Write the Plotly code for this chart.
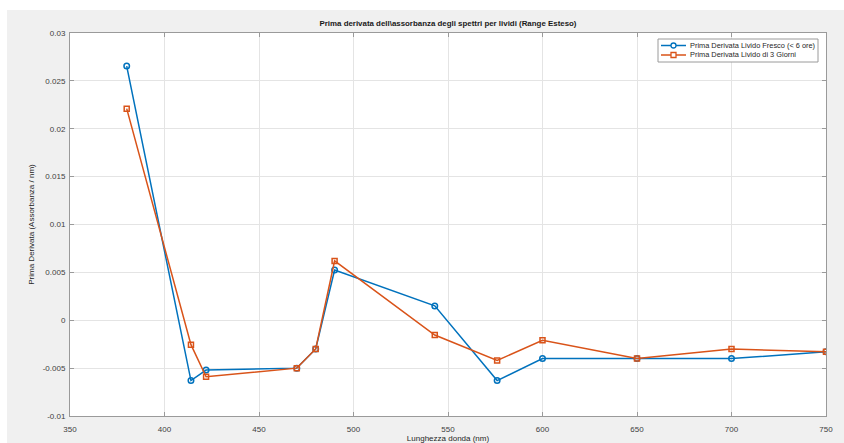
import plotly.graph_objects as go

wavelengths = [380, 414, 422, 470, 480, 490, 543, 576, 600, 650, 700, 750]
fresh = [0.02655, -0.0063, -0.0052, -0.0050, -0.0030, 0.00525, 0.0015, -0.0063, -0.0040, -0.0040, -0.0040, -0.0033]
old3 = [0.0221, -0.00255, -0.0059, -0.0050, -0.0030, 0.0062, -0.00154, -0.0042, -0.0021, -0.0040, -0.0030, -0.0033]
series_names = ["Prima Derivata Livido Fresco (< 6 ore)", "Prima Derivata Livido di 3 Giorni"]

y_ticks = [-0.01, -0.005, 0, 0.005, 0.01, 0.015, 0.02, 0.025, 0.03]
y_labels = ["-0.01", "-0.005", "0", "0.005", "0.01", "0.015", "0.02", "0.025", "0.03"]
x_ticks = [350, 400, 450, 500, 550, 600, 650, 700, 750]

BLUE = "#0072BD"
ORANGE = "#D95319"
FONT = "Liberation Sans, Arial, sans-serif"

# plot area in pixels
L, R, T, B = 70, 826, 33, 416
W, H = R - L, B - T
def px(x):
    return (x - L) / W
def py(y):
    return (B - y) / H

fig = go.Figure()
fig.add_trace(go.Scatter(
    x=wavelengths, y=fresh, mode="lines+markers", name=series_names[0],
    line=dict(color=BLUE, width=1.5),
    marker=dict(symbol="circle-open", size=5.5, color=BLUE, line=dict(width=1.5)),
    showlegend=False,
))
fig.add_trace(go.Scatter(
    x=wavelengths, y=old3, mode="lines+markers", name=series_names[1],
    line=dict(color=ORANGE, width=1.5),
    marker=dict(symbol="square-open", size=5, color=ORANGE, line=dict(width=1.5)),
    showlegend=False,
))

axis_common = dict(
    showline=True, linecolor="#9a9a9a", linewidth=1, mirror="allticks",
    ticks="inside", ticklen=4, tickcolor="#9a9a9a",
    showgrid=True, gridcolor="#e4e4e4", gridwidth=1, zeroline=False,
    tickfont=dict(family=FONT, size=8, color="#404040"),
    automargin=False,
)

shapes = [
    dict(type="rect", xref="paper", yref="paper", x0=-0.2, x1=1.2,
         y0=py(10), y1=1.3, fillcolor="white", line=dict(width=0), layer="below"),
    dict(type="rect", xref="paper", yref="paper", x0=-0.2, x1=px(7),
         y0=-0.3, y1=1.3, fillcolor="white", line=dict(width=0), layer="below"),
    # custom legend box
    dict(type="rect", xref="paper", yref="paper", x0=px(658), x1=px(818),
         y0=py(62), y1=py(39), fillcolor="white", line=dict(color="#9a9a9a", width=1)),
]
annotations = []
rows = [(45.5, BLUE, "circle", series_names[0]), (55, ORANGE, "rect", series_names[1])]
for yrow, col, mk, name in rows:
    shapes.append(dict(type="line", xref="paper", yref="paper", x0=px(661), x1=px(686),
                       y0=py(yrow), y1=py(yrow), line=dict(color=col, width=1.5)))
    r = 2.5
    shapes.append(dict(type=mk, xref="paper", yref="paper", x0=px(673.5 - r), x1=px(673.5 + r),
                       y0=py(yrow + r), y1=py(yrow - r), fillcolor="white",
                       line=dict(color=col, width=1.3)))
    annotations.append(dict(text=name, xref="paper", yref="paper", x=px(688), y=py(yrow),
                            xanchor="left", yanchor="middle", showarrow=False,
                            font=dict(family=FONT, size=7.4, color="#262626")))

fig.update_layout(
    width=844, height=443,
    margin=dict(l=L, r=844 - R, t=T, b=443 - B),
    paper_bgcolor="#f0f0f0",
    plot_bgcolor="white",
    font=dict(family=FONT, size=8, color="#262626"),
    title=dict(
        text="<b>Prima derivata dell\\assorbanza degli spettri per lividi (Range Esteso)</b>",
        x=px(448), xref="paper", xanchor="center",
        y=1 - 23 / 443, yref="container", yanchor="middle",
        font=dict(family=FONT, size=7.9, color="#1a1a1a"),
    ),
    xaxis=dict(
        range=[350, 750], tickvals=x_ticks, ticklabelstandoff=5,
        title=dict(text="Lunghezza donda (nm)", standoff=4,
                   font=dict(family=FONT, size=8, color="#262626")),
        **axis_common,
    ),
    yaxis=dict(
        range=[-0.01, 0.03], tickvals=y_ticks, ticktext=y_labels, ticklabelstandoff=2,
        title=dict(text="Prima Derivata (Assorbanza / nm)", standoff=6,
                   font=dict(family=FONT, size=8, color="#262626")),
        **axis_common,
    ),
    showlegend=False,
    shapes=shapes,
    annotations=annotations,
)

fig.write_html("out.html")
